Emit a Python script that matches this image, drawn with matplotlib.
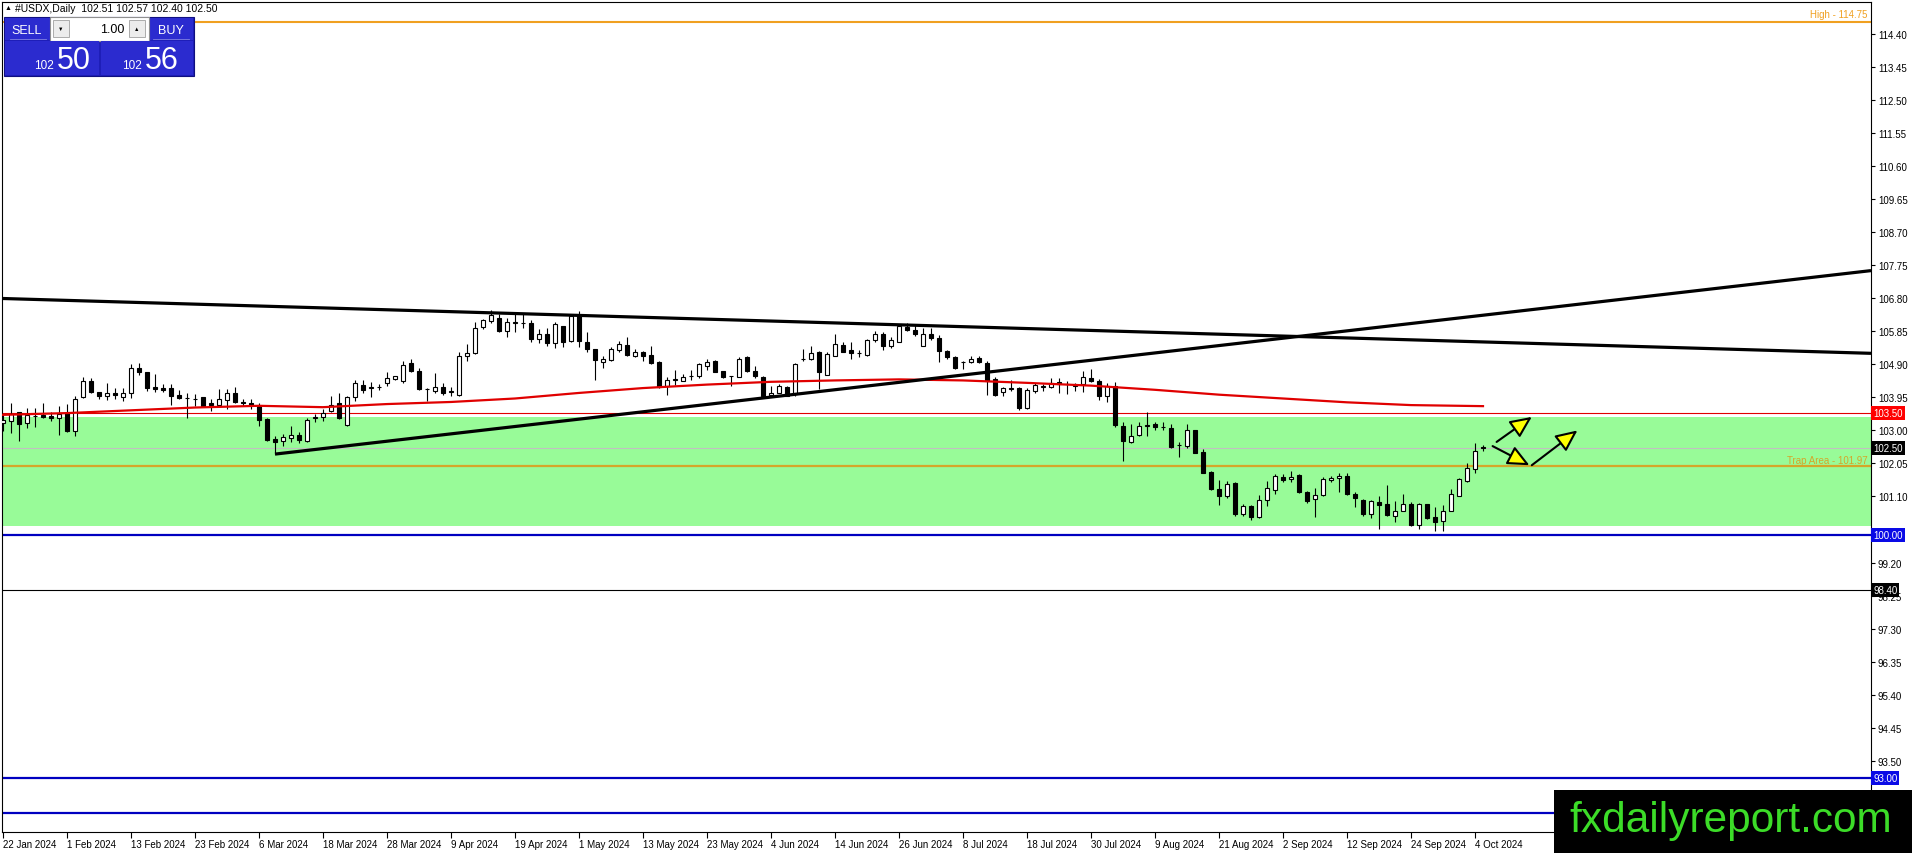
import matplotlib
matplotlib.use("Agg")
import matplotlib.pyplot as plt
from matplotlib.patches import Rectangle
import numpy as np

# daily candles #USDX, bar 0 = 22 Jan 2024, bar 185 = 7 Oct 2024
opens = [103.21, 103.28, 103.52, 103.21, 103.42, 103.44, 103.42, 103.36, 103.50, 102.99,
         103.95, 104.43, 104.12, 103.98, 104.09, 103.95, 104.07, 104.79, 104.69, 104.24,
         104.22, 104.22, 104.02, 103.93, 103.90, 103.95, 103.78, 103.74, 103.87, 104.09,
         103.81, 103.79, 103.71, 103.33, 102.75, 102.70, 102.77, 102.86, 102.70, 103.36,
         103.40, 103.55, 103.78, 103.15, 103.95, 104.31, 104.21, 104.24, 104.38, 104.48,
         104.41, 104.93, 104.72, 104.19, 104.14, 104.24, 104.12, 104.03, 105.13, 105.23,
         105.99, 106.14, 106.25, 105.87, 106.08, 106.08, 106.09, 105.63, 105.77, 105.53,
         106.01, 105.58, 106.30, 105.55, 105.34, 104.98, 105.02, 105.32, 105.46, 105.15,
         105.25, 105.17, 104.98, 104.27, 104.46, 104.43, 104.56, 104.57, 104.86, 105.01,
         104.70, 104.58, 104.55, 105.10, 104.70, 104.55, 104.03, 104.09, 104.24, 104.05,
         105.05, 105.05, 105.25, 104.59, 105.15, 105.46, 105.31, 105.23, 105.18, 105.60,
         105.79, 105.42, 105.56, 105.99, 105.90, 105.44, 105.77, 105.65, 105.29, 105.10,
         104.96, 104.96, 105.08, 104.93, 104.48, 104.10, 104.19, 104.21, 103.66, 104.13,
         104.24, 104.26, 104.40, 104.34, 104.29, 104.34, 104.50, 104.41, 103.98, 104.27,
         103.12, 102.66, 102.87, 103.12, 103.19, 103.09, 103.07, 102.58, 102.54, 103.01,
         102.39, 101.81, 101.31, 101.10, 101.48, 100.60, 100.84, 100.50, 101.00, 101.30,
         101.67, 101.60, 101.72, 101.22, 101.03, 101.14, 101.58, 101.62, 101.70, 101.17,
         101.00, 100.61, 100.93, 100.88, 100.55, 100.69, 100.88, 100.29, 100.88, 100.50,
         100.40, 100.69, 101.12, 101.55, 101.89, 102.51]
highs = [103.47, 103.79, 103.52, 103.66, 103.66, 103.79, 103.52, 103.71, 103.76, 103.98,
         104.55, 104.50, 104.12, 104.38, 104.22, 104.22, 104.91, 104.93, 104.69, 104.62,
         104.33, 104.33, 104.17, 104.09, 104.05, 103.95, 103.90, 104.19, 104.19, 104.24,
         103.90, 103.90, 103.78, 103.35, 102.85, 102.90, 103.12, 102.96, 103.37, 103.47,
         103.61, 104.00, 104.09, 104.00, 104.46, 104.46, 104.40, 104.33, 104.67, 104.57,
         105.01, 105.05, 104.79, 104.21, 104.65, 104.38, 104.24, 105.25, 105.49, 106.11,
         106.22, 106.47, 106.35, 106.25, 106.35, 106.35, 106.19, 105.92, 105.96, 106.13,
         106.01, 106.35, 106.44, 105.84, 105.34, 105.15, 105.39, 105.58, 105.68, 105.34,
         105.29, 105.42, 105.01, 104.55, 104.75, 104.62, 104.74, 104.94, 105.05, 105.04,
         104.70, 104.58, 105.10, 105.13, 104.86, 104.57, 104.27, 104.35, 104.29, 104.93,
         105.34, 105.42, 105.29, 105.25, 105.77, 105.55, 105.55, 105.31, 105.63, 105.87,
         105.84, 105.68, 106.06, 106.09, 106.06, 105.94, 105.96, 105.74, 105.31, 105.15,
         105.01, 105.15, 105.13, 105.01, 104.55, 104.24, 104.46, 104.24, 104.21, 104.37,
         104.34, 104.50, 104.50, 104.43, 104.36, 104.72, 104.77, 104.48, 104.38, 104.40,
         103.23, 103.19, 103.23, 103.52, 103.23, 103.25, 103.19, 102.68, 103.19, 103.01,
         102.47, 101.84, 101.58, 101.55, 101.51, 100.88, 100.85, 101.14, 101.54, 101.75,
         101.75, 101.84, 101.75, 101.27, 101.33, 101.65, 101.70, 101.77, 101.79, 101.22,
         101.03, 101.01, 101.12, 101.43, 100.96, 101.17, 100.95, 100.91, 100.88, 100.79,
         100.85, 101.31, 101.63, 102.06, 102.63, 102.57]
lows = [102.99, 102.94, 102.70, 103.06, 103.09, 103.35, 103.26, 102.88, 102.97, 102.85,
        103.93, 104.09, 103.90, 103.88, 103.90, 103.84, 103.93, 104.60, 104.14, 104.12,
        104.12, 103.74, 103.90, 103.37, 103.71, 103.69, 103.55, 103.71, 103.61, 103.79,
        103.69, 103.61, 103.14, 102.71, 102.32, 102.56, 102.66, 102.64, 102.67, 103.23,
        103.28, 103.52, 103.33, 103.12, 103.85, 104.09, 103.95, 104.16, 104.27, 104.46,
        104.36, 104.67, 104.17, 103.85, 104.08, 104.03, 104.00, 103.98, 104.99, 105.20,
        105.92, 106.09, 105.82, 105.68, 105.82, 105.96, 105.55, 105.53, 105.44, 105.36,
        105.39, 105.55, 105.39, 105.25, 104.45, 104.79, 105.01, 105.26, 105.15, 105.12,
        105.01, 104.91, 104.21, 104.02, 104.31, 104.41, 104.46, 104.50, 104.75, 104.67,
        104.51, 104.29, 104.54, 104.67, 104.50, 103.98, 104.00, 104.08, 103.98, 104.00,
        105.01, 105.02, 104.19, 104.59, 105.13, 105.25, 105.05, 105.10, 105.15, 105.55,
        105.32, 105.36, 105.55, 105.87, 105.71, 105.42, 105.61, 104.98, 105.07, 104.78,
        104.77, 104.93, 104.94, 104.02, 103.98, 104.00, 104.15, 103.60, 103.62, 104.07,
        104.15, 104.22, 104.07, 104.05, 104.15, 104.10, 104.40, 103.88, 103.81, 103.09,
        102.11, 102.63, 102.85, 102.85, 103.01, 103.02, 102.49, 102.23, 102.49, 102.34,
        101.78, 101.30, 100.85, 101.07, 100.55, 100.55, 100.43, 100.47, 100.84, 101.17,
        101.51, 101.51, 101.19, 100.91, 100.52, 101.10, 101.51, 101.22, 101.15, 100.81,
        100.55, 100.47, 100.16, 100.55, 100.36, 100.67, 100.26, 100.16, 100.45, 100.10,
        100.12, 100.67, 101.10, 101.53, 101.77, 102.40]
closes = [103.31, 103.47, 103.20, 103.44, 103.43, 103.39, 103.36, 103.47, 102.99, 103.90,
          104.43, 104.11, 104.00, 104.09, 104.03, 104.09, 104.81, 104.67, 104.21, 104.19,
          104.17, 104.00, 103.92, 103.92, 103.90, 103.71, 103.74, 103.90, 104.08, 103.83,
          103.78, 103.73, 103.31, 102.73, 102.68, 102.82, 102.88, 102.74, 103.30, 103.40,
          103.51, 103.74, 103.37, 103.95, 104.38, 104.17, 104.26, 104.25, 104.50, 104.57,
          104.89, 104.72, 104.19, 104.20, 104.24, 104.08, 104.13, 105.15, 105.23, 105.96,
          106.18, 106.32, 105.87, 106.11, 106.11, 106.09, 105.63, 105.77, 105.51, 106.06,
          105.55, 106.30, 105.58, 105.34, 105.02, 105.05, 105.34, 105.49, 105.17, 105.27,
          105.15, 104.94, 104.24, 104.46, 104.46, 104.55, 104.57, 104.91, 104.98, 104.69,
          104.53, 104.57, 105.07, 104.70, 104.57, 104.00, 104.09, 104.27, 104.00, 104.91,
          105.06, 105.23, 104.67, 105.20, 105.49, 105.26, 105.22, 105.24, 105.61, 105.79,
          105.44, 105.61, 106.01, 105.89, 105.79, 105.77, 105.65, 105.29, 105.10, 104.81,
          104.98, 105.07, 104.96, 104.43, 104.02, 104.21, 104.21, 103.64, 104.16, 104.31,
          104.29, 104.37, 104.34, 104.33, 104.30, 104.53, 104.43, 104.00, 104.29, 103.17,
          102.69, 102.85, 103.12, 103.17, 103.09, 103.10, 102.51, 102.57, 103.01, 102.34,
          101.79, 101.31, 101.12, 101.46, 100.60, 100.84, 100.50, 101.00, 101.33, 101.70,
          101.58, 101.67, 101.22, 100.98, 101.14, 101.60, 101.63, 101.70, 101.17, 101.05,
          100.60, 100.96, 100.85, 100.58, 100.67, 100.88, 100.29, 100.88, 100.48, 100.36,
          100.69, 101.17, 101.60, 101.91, 102.42, 102.50]

date_labels = ["22 Jan 2024", "1 Feb 2024", "13 Feb 2024", "23 Feb 2024", "6 Mar 2024",
               "18 Mar 2024", "28 Mar 2024", "9 Apr 2024", "19 Apr 2024", "1 May 2024",
               "13 May 2024", "23 May 2024", "4 Jun 2024", "14 Jun 2024", "26 Jun 2024",
               "8 Jul 2024", "18 Jul 2024", "30 Jul 2024", "9 Aug 2024", "21 Aug 2024",
               "2 Sep 2024", "12 Sep 2024", "24 Sep 2024", "4 Oct 2024"]

# red moving average, read every 8 bars
ma_bars = [0, 8, 16, 24, 32, 40, 48, 56, 64, 72, 80, 88, 96, 104, 112, 120,
           128, 136, 144, 152, 160, 168, 176, 185]
ma_values = [103.45, 103.50, 103.58, 103.66, 103.71, 103.67, 103.76, 103.82, 103.92, 104.08,
             104.22, 104.32, 104.40, 104.44, 104.47, 104.44, 104.37, 104.29, 104.17, 104.03,
             103.92, 103.81, 103.73, 103.70]

price_ticks = [114.40, 113.45, 112.50, 111.55, 110.60, 109.65, 108.70, 107.75, 106.80,
               105.85, 104.90, 103.95, 103.00, 102.05, 101.10, 100.15, 99.20, 98.25,
               97.30, 96.35, 95.40, 94.45, 93.50, 92.55]
# labels hidden behind the coloured price tags
covered_ticks = [100.15]

high_level = 114.75
trap_level = 101.97
resist_level = 103.50
bid_level = 102.50
support_levels = [100.00, 93.00, 92.00]
black_level = 98.40
zone = (100.26, 103.38)

# trend lines (bar, price) pairs
down_trend = [(-0.375, 106.80), (233.5, 105.22)]
up_trend = [(34, 102.32), (233.5, 107.60)]

# yellow arrows (start bar, start price, end bar, end price)
arrows = [(186.7, 102.67, 191.1, 103.39),
          (186.2, 102.55, 190.8, 102.00),
          (191.1, 102.00, 196.8, 103.00)]

plt.rcParams['font.family'] = ['Liberation Sans', 'DejaVu Sans']

W, H = 1912, 854
fig = plt.figure(figsize=(W / 100, H / 100), dpi=100)
fig.patch.set_facecolor('white')
ax = fig.add_axes([2 / W, (H - 833) / H, 1869 / W, 830 / H])
ax.set_xlim(-0.125, 233.5)
ax.set_ylim(91.445, 115.33)

# zone and levels
ax.add_patch(Rectangle((-1, zone[0]), 240, zone[1] - zone[0], facecolor='#98fb98',
                       edgecolor='none', zorder=0))
ax.axhline(high_level, color='#f0a020', lw=1.5, zorder=1)
ax.axhline(bid_level, color='#c0c0c0', lw=0.8, zorder=1)
ax.axhline(trap_level, color='#d4a62a', lw=1.6, zorder=1)
ax.axhline(resist_level, color='#e00000', lw=0.8, zorder=1)
ax.axhline(black_level, color='black', lw=0.8, zorder=1)
for lvl in support_levels:
    ax.axhline(lvl, color='#0000c0', lw=1.6, zorder=1)

ax.text(0.998, high_level + 0.08, 'High - 114.75', color='#f0a020', fontsize=7,
        ha='right', va='bottom', transform=ax.get_yaxis_transform())
ax.text(0.998, trap_level + 0.05, 'Trap Area - 101.97', color='#d4a62a', fontsize=7,
        ha='right', va='bottom', transform=ax.get_yaxis_transform())

# candles
o = np.array(opens)
h = np.array(highs)
l = np.array(lows)
c = np.array(closes)
idx = np.arange(len(o))
ax.vlines(idx, l, h, color='black', lw=0.8, zorder=3)
bull = c >= o
bottom = np.minimum(o, c)
height = np.maximum(np.abs(c - o), 0.008)
ax.bar(idx[bull], height[bull], bottom=bottom[bull], width=0.62, color='white',
       edgecolor='black', lw=0.8, zorder=3.5)
ax.bar(idx[~bull], height[~bull], bottom=bottom[~bull], width=0.62, color='black',
       edgecolor='black', lw=0.8, zorder=3.5)

# moving average
ax.plot(ma_bars, ma_values, color='#e00000', lw=1.6, zorder=4)

# trend lines
for line in (down_trend, up_trend):
    ax.plot([p[0] for p in line], [p[1] for p in line], color='black', lw=2.3,
            zorder=5, solid_capstyle='butt')

for x0, y0, x1, y1 in arrows:
    ax.annotate('', xy=(x1, y1), xytext=(x0, y0),
                arrowprops=dict(arrowstyle='-|>,head_length=1.2,head_width=0.55',
                                mutation_scale=11, facecolor='#ffff00',
                                edgecolor='black', lw=1.5, shrinkA=0, shrinkB=0),
                zorder=6)

# axes styling
for s in ax.spines.values():
    s.set_color('black')
    s.set_linewidth(0.8)
ax.yaxis.tick_right()
ax.set_yticks(price_ticks)
ax.set_yticklabels(['' if v in covered_ticks else '%.2f' % v for v in price_ticks])
ax.tick_params(axis='y', direction='out', length=3, width=0.8, labelsize=7, pad=2)
ax.set_xticks(np.arange(0, 8 * len(date_labels), 8))
ax.set_xticklabels(date_labels)
ax.tick_params(axis='x', direction='out', length=4, width=0.8, labelsize=7, pad=1)
for t in ax.get_xticklabels():
    t.set_ha('left')

# highlighted price labels
tags = [(resist_level, '#ff0000'), (bid_level, 'black'), (100.00, '#0a0ae6'),
        (black_level, 'black'), (93.00, '#0a0ae6')]
for val, col in tags:
    ax.text(1.0012, val, '%.2f' % val, color='white', fontsize=7, ha='left', va='center',
            transform=ax.get_yaxis_transform(), clip_on=False, zorder=10,
            bbox=dict(facecolor=col, edgecolor='none', boxstyle='square,pad=0.2'))

# overlay in pixel coordinates: header, trade panel, watermark
ov = fig.add_axes([0, 0, 1, 1], zorder=20)
ov.set_xlim(0, W)
ov.set_ylim(H, 0)
ov.axis('off')

ov.text(5, 9, '\u25b2', fontsize=5, va='center', ha='left', color='black')
ov.text(15, 9, '#USDX,Daily  102.51 102.57 102.40 102.50', fontsize=7.5, va='center',
        ha='left', color='black')

blue = '#2b2bcf'
dark_blue = '#1e1eb8'
ov.add_patch(Rectangle((4, 18), 190, 59, facecolor=dark_blue, edgecolor='#101080', lw=0.8))
ov.add_patch(Rectangle((5, 19), 45, 22, facecolor=blue, edgecolor='none'))
ov.add_patch(Rectangle((149, 19), 44, 22, facecolor=blue, edgecolor='none'))
ov.add_patch(Rectangle((50, 18), 99, 24, facecolor='white', edgecolor='#909090', lw=0.8))
ov.add_patch(Rectangle((53, 21), 16, 17, facecolor='#ececec', edgecolor='#a0a0a0', lw=0.6))
ov.add_patch(Rectangle((129, 21), 16, 17, facecolor='#ececec', edgecolor='#a0a0a0', lw=0.6))
ov.text(61, 29.5, '\u25bc', fontsize=4, ha='center', va='center', color='black')
ov.text(137, 29.5, '\u25b2', fontsize=4, ha='center', va='center', color='black')
ov.text(124, 30, '1.00', fontsize=9, ha='right', va='center', color='black')
ov.text(27, 31, 'SELL', fontsize=9, ha='center', va='center', color='white')
ov.text(171, 31, 'BUY', fontsize=9, ha='center', va='center', color='white')
ov.plot([10, 46], [40, 40], color='#8080e0', lw=0.6)
ov.plot([153, 189], [40, 40], color='#8080e0', lw=0.6)
ov.add_patch(Rectangle((5, 42), 94, 34, facecolor=blue, edgecolor='none'))
ov.add_patch(Rectangle((101, 42), 92, 34, facecolor=blue, edgecolor='none'))
ov.text(54, 69, '102', fontsize=8.5, ha='right', va='baseline', color='white')
ov.text(57, 69, '50', fontsize=22, ha='left', va='baseline', color='white')
ov.text(142, 69, '102', fontsize=8.5, ha='right', va='baseline', color='white')
ov.text(145, 69, '56', fontsize=22, ha='left', va='baseline', color='white')

ov.add_patch(Rectangle((1554, 791), W - 1554, H - 791, facecolor='black', edgecolor='none'))
ov.text(1731, 832, 'fxdailyreport.com', fontsize=30.5, color='#3cdc28', ha='center',
        va='baseline', family='Liberation Sans')

fig.savefig('out.png', dpi=100, facecolor='white')
